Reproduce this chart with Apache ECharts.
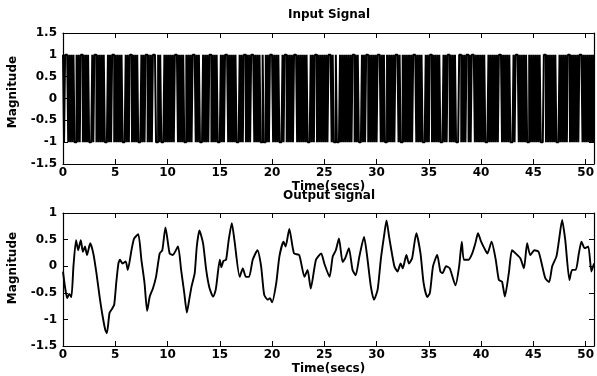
<!DOCTYPE html>
<html>
<head>
<meta charset="utf-8">
<script src="https://cdn.jsdelivr.net/npm/echarts@6/dist/echarts.min.js"></script>
<style>
  html, body { margin: 0; padding: 0; background: #fff; }
  #chart { width: 597px; height: 376px; }
</style>
</head>
<body>
<div id="chart"></div>
<script>
// time axis (secs), shared by both plots
const xMax = 50.8;
const inputStep = 0.1;

// input: binary PRBS, one char per 0.1 s ("1" = +1, "0" = -1), one group per second
const inputBits = [
  "1011101010", "1001010110", "1010100010", "1101010101", "0001010110",
  "1010101000", "1010110101", "0100010101", "1010101110", "0101000101",
  "0101010111", "0101010010", "1010111010", "1000101010", "1101010100",
  "0101011101", "0101010001", "0101101010", "1110101010", "0100101011",
  "1010101000", "1011010101", "0111010101", "0101000101", "0110101010",
  "1010111010", "0100010101", "0101010110", "1010001010", "1101010101",
  "0111010100", "1010101011", "1010010101", "0101011101", "0101000101",
  "0110101010", "1000101011", "0101010001", "1010101101", "0111010101",
  "0101000101", "0101010111", "0101010100", "0101110101", "0101001010",
  "1010101000", "1101010101", "0100010101", "0101101010", "1010111010",
  "101010101"
].join("");

// output signal
const outTime = [
  0.0, 0.2, 0.4, 0.6, 0.8, 1.0, 1.25, 1.45, 1.7, 1.9,
  2.1, 2.3, 2.6, 2.9, 3.2, 3.5, 3.8, 4.05, 4.2, 4.45,
  4.7, 4.9, 5.1, 5.3, 5.45, 5.7, 6.0, 6.2, 6.55, 6.8,
  7.2, 7.5, 7.8, 8.05, 8.3, 8.6, 8.9, 9.25, 9.5, 9.8,
  10.2, 10.5, 11.0, 11.3, 11.6, 11.85, 12.1, 12.3, 12.6, 12.8,
  13.05, 13.4, 13.7, 14.0, 14.35, 14.6, 14.7, 15.0, 15.15, 15.35,
  15.6, 15.85, 16.15, 16.4, 16.9, 17.2, 17.5, 17.8, 18.15, 18.6,
  18.95, 19.25, 19.6, 19.8, 20.0, 20.4, 20.7, 21.1, 21.3, 21.65,
  22.1, 22.6, 23.1, 23.4, 23.7, 24.2, 24.7, 25.0, 25.5, 25.8,
  26.1, 26.4, 26.75, 27.0, 27.35, 27.7, 28.0, 28.35, 28.8, 29.1,
  29.45, 29.75, 30.1, 30.4, 30.7, 30.95, 31.2, 31.7, 32.0, 32.3,
  32.5, 32.85, 33.1, 33.4, 33.8, 34.2, 34.5, 34.85, 35.1, 35.4,
  35.8, 36.1, 36.3, 36.65, 37.0, 37.55, 37.9, 38.15, 38.35, 38.8,
  39.15, 39.45, 39.7, 40.0, 40.3, 40.6, 41.0, 41.4, 41.7, 42.0,
  42.27, 42.65, 42.95, 43.3, 43.75, 44.1, 44.4, 44.7, 45.1, 45.5,
  45.85, 46.15, 46.5, 46.8, 47.2, 47.45, 47.75, 48.05, 48.45, 48.7,
  49.05, 49.35, 49.6, 49.9, 50.25, 50.55, 50.8
];
const outValue = [
  -0.1, -0.4, -0.6, -0.52, -0.58, 0.0, 0.49, 0.3, 0.49, 0.27,
  0.37, 0.21, 0.43, 0.24, -0.13, -0.57, -0.95, -1.2, -1.26, -0.88,
  -0.8, -0.72, -0.3, 0.05, 0.12, 0.05, 0.09, -0.07, 0.3, 0.52,
  0.6, 0.12, -0.32, -0.84, -0.57, -0.42, -0.2, 0.24, 0.3, 0.73,
  0.24, 0.21, 0.37, -0.07, -0.5, -0.87, -0.6, -0.38, -0.13, 0.37,
  0.67, 0.43, -0.07, -0.4, -0.57, -0.45, -0.32, 0.12, -0.02, 0.1,
  0.12, 0.49, 0.81, 0.49, -0.2, -0.04, -0.2, -0.2, 0.12, 0.3,
  0.0, -0.54, -0.63, -0.6, -0.68, -0.32, 0.18, 0.46, 0.37, 0.7,
  0.24, 0.21, -0.2, -0.07, -0.42, 0.12, 0.24, 0.05, -0.2, 0.18,
  0.3, 0.52, 0.08, 0.15, 0.34, -0.07, -0.17, 0.18, 0.55, 0.18,
  -0.38, -0.63, -0.44, 0.12, 0.55, 0.86, 0.55, 0.0, -0.1, 0.05,
  -0.04, 0.21, 0.05, 0.15, 0.62, 0.24, -0.32, -0.58, -0.5, 0.0,
  0.21, -0.1, -0.13, 0.0, -0.04, -0.36, 0.0, 0.46, 0.12, 0.12,
  0.24, 0.43, 0.62, 0.46, 0.34, 0.24, 0.46, 0.12, -0.26, -0.29,
  -0.57, -0.13, 0.3, 0.24, 0.15, -0.04, 0.43, 0.21, 0.3, 0.27,
  0.0, -0.23, -0.3, 0.0, 0.18, 0.49, 0.87, 0.49, -0.26, -0.07,
  -0.07, 0.24, 0.46, 0.34, 0.37, -0.1, 0.05
];

const inputData = Array.from(inputBits, (b, i) => [+(i * inputStep).toFixed(1), b === "1" ? 1 : -1]);
const outputData = outTime.map((t, i) => [t, outValue[i]]);

const FONT = '"DejaVu Sans", sans-serif';
const textStyle = { fontFamily: FONT, fontWeight: "bold", fontSize: 12, color: "#000" };
const boxLine = { show: true, onZero: false, lineStyle: { color: "#000", width: 1.2 } };
const inTick = { show: true, inside: true, length: 5, lineStyle: { color: "#000", width: 1 } };

function xAxesFor(gridIndex) {
  return [
    {
      type: "value", gridIndex, position: "bottom", min: 0, max: xMax, interval: 5,
      axisLine: boxLine, axisTick: inTick, splitLine: { show: false },
      axisLabel: { ...textStyle, margin: 3, showMaxLabel: false },
      name: "Time(secs)", nameLocation: "middle", nameGap: 17, nameTextStyle: textStyle
    },
    {
      type: "value", gridIndex, position: "top", min: 0, max: xMax, interval: 5,
      axisLine: boxLine, axisTick: inTick, splitLine: { show: false },
      axisLabel: { show: false }
    }
  ];
}

function yAxesFor(gridIndex, min, max) {
  return [
    {
      type: "value", gridIndex, position: "left", min, max, interval: 0.5,
      axisLine: boxLine, axisTick: inTick, splitLine: { show: false },
      axisLabel: { ...textStyle, margin: 6 }
    },
    {
      type: "value", gridIndex, position: "right", min, max, interval: 0.5,
      axisLine: boxLine, axisTick: inTick, splitLine: { show: false },
      axisLabel: { show: false }
    }
  ];
}

function label(text, x, y, rotation) {
  return {
    type: "text", x, y, rotation: rotation || 0,
    style: { text, fill: "#000", font: 'bold 12px "DejaVu Sans", sans-serif', align: "center", verticalAlign: "middle" }
  };
}

const chart = echarts.init(document.getElementById("chart"), null, { renderer: "canvas" });
chart.setOption({
  animation: false,
  backgroundColor: "#fff",
  grid: [
    { left: 63, right: 2, top: 33, height: 131 },
    { left: 63, right: 2, top: 213, height: 133 }
  ],
  xAxis: [...xAxesFor(0), ...xAxesFor(1)],
  yAxis: [...yAxesFor(0, -1.5, 1.5), ...yAxesFor(1, -1.5, 1)],
  graphic: [
    label("Input Signal", 329, 15),
    label("Output signal", 329, 196),
    label("Magnitude", 13, 92, Math.PI / 2),
    label("Magnitude", 13, 268, Math.PI / 2)
  ],
  series: [
    {
      type: "line", xAxisIndex: 0, yAxisIndex: 0, step: "end",
      data: inputData, showSymbol: false, symbol: "none",
      lineStyle: { color: "#000", width: 2 }
    },
    {
      type: "line", xAxisIndex: 2, yAxisIndex: 2, smooth: 0.2,
      data: outputData, showSymbol: false, symbol: "none",
      lineStyle: { color: "#000", width: 1.9 }
    }
  ]
});
</script>
</body>
</html>
